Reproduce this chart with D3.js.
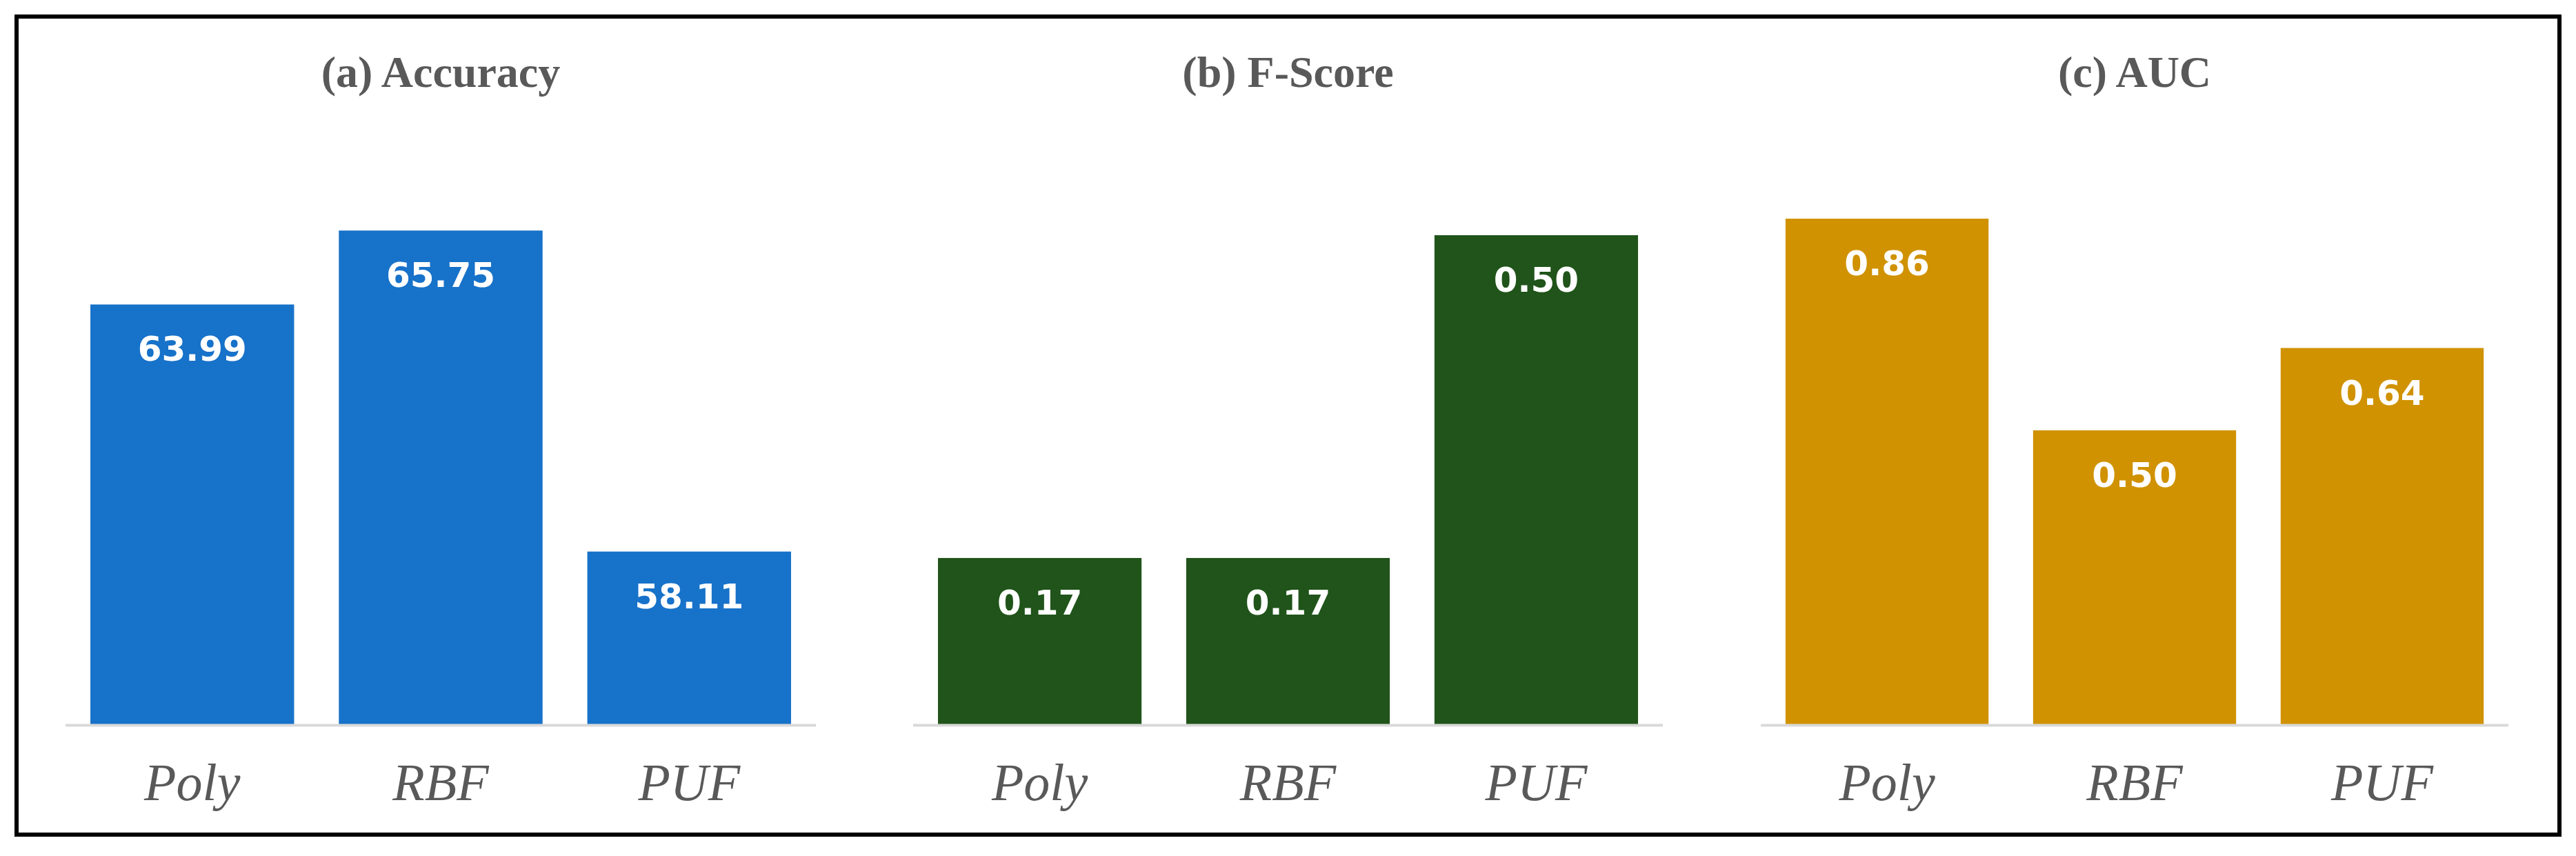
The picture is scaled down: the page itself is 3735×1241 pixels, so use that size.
<!DOCTYPE html>
<html><head><meta charset="utf-8">
<script src="https://cdn.jsdelivr.net/npm/d3@7"></script>
<style>body{margin:0;background:#fff}</style></head>
<body><svg id="c" width="3735" height="1241"></svg>
<script>
const categories = ["Poly", "RBF", "PUF"];
const accuracy = [63.99, 65.75, 58.11];
const fscore = [0.17, 0.17, 0.50];
const auc = [0.86, 0.50, 0.64];
const titles = ["(a) Accuracy", "(b) F-Score", "(c) AUC"];
const labels = [["63.99","65.75","58.11"],["0.17","0.17","0.50"],["0.86","0.50","0.64"]];

const svg = d3.select("#c");
svg.append("rect").attr("x",24).attr("y",24).attr("width",3687).attr("height",1186)
  .attr("fill","#fff").attr("stroke","#000").attr("stroke-width",6);

const panels = [
  {vals: accuracy, dom:[54,66], top:319, x0:95, x1:1183, color:"#1772C9"},
  {vals: fscore, dom:[0,0.5], top:341, x0:1324, x1:2411, color:"#20541A"},
  {vals: auc, dom:[0,0.86], top:317, x0:2553, x1:3637, color:"#D09200"}
];
const base = 1050;
panels.forEach((p,i)=>{
  const x = d3.scaleBand().domain(categories).range([p.x0,p.x1]).paddingInner(0.18).paddingOuter(0.1);
  const y = d3.scaleLinear().domain(p.dom).range([base,p.top]);
  const g = svg.append("g");
  g.append("text").attr("x",(p.x0+p.x1)/2).attr("y",126).attr("text-anchor","middle")
    .attr("font-family","Liberation Serif, serif").attr("font-weight","bold").attr("font-size",64)
    .attr("fill","#595959").text(titles[i]);
  g.selectAll("rect.b").data(p.vals).join("rect").attr("class","b")
    .attr("x",(d,j)=>x(categories[j])).attr("width",x.bandwidth())
    .attr("y",d=>y(d)).attr("height",d=>base-y(d)).attr("fill",p.color);
  g.selectAll("text.v").data(p.vals).join("text").attr("class","v")
    .attr("x",(d,j)=>x(categories[j])+x.bandwidth()/2).attr("y",d=>y(d)+82)
    .attr("text-anchor","middle").attr("font-family","DejaVu Sans, sans-serif").attr("font-weight","bold")
    .attr("font-size",50).attr("fill","#fff").text((d,j)=>labels[i][j]);
  const ax = g.append("g").attr("transform",`translate(0,${base})`)
    .call(d3.axisBottom(x).tickSize(0).tickPadding(0));
  ax.select(".domain").attr("stroke","#d9d9d9").attr("stroke-width",4)
    .attr("d",`M${p.x0},1.5H${p.x1}`);
  ax.selectAll("text").attr("dy",0).attr("y",110).attr("font-family","Liberation Serif, serif")
    .attr("font-style","italic").attr("font-size",76).attr("fill","#595959");
});
</script></body></html>
